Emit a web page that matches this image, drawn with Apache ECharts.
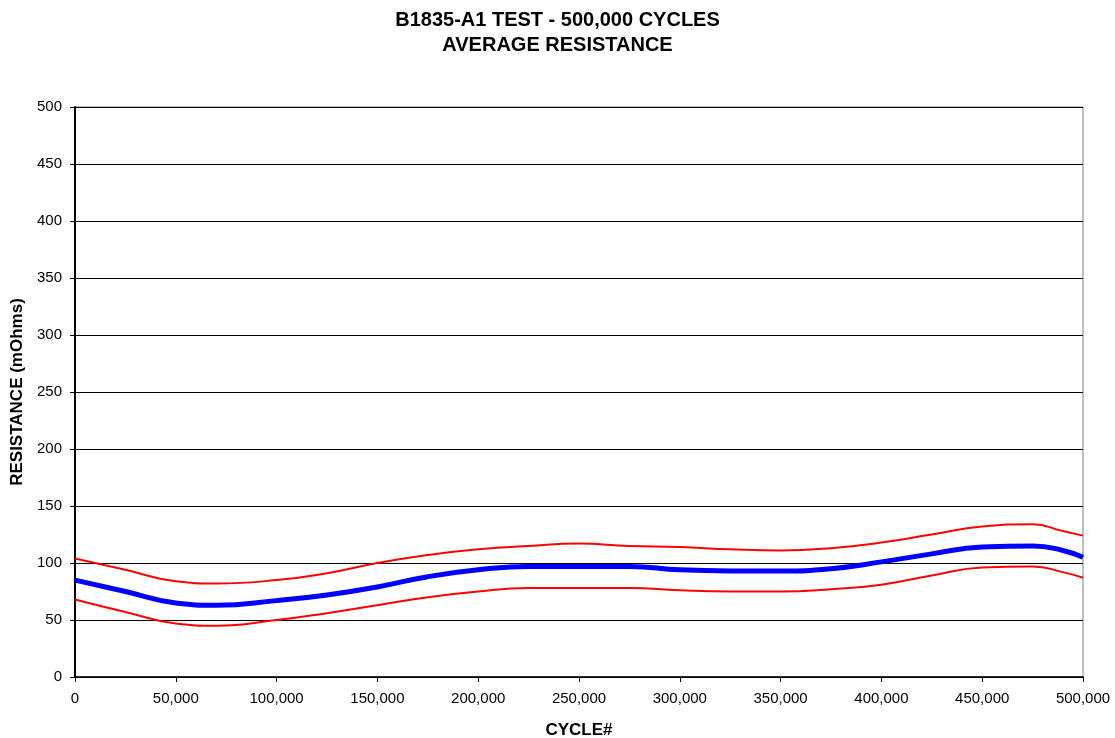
<!DOCTYPE html>
<html>
<head>
<meta charset="utf-8">
<script src="https://cdn.jsdelivr.net/npm/echarts@6/dist/echarts.min.js"></script>
<style>html,body{margin:0;padding:0;background:#fff}#c{width:1115px;height:738px}</style>
</head>
<body>
<div id="c"></div>
<script>
const cycles = [0,25000,50000,70000,100000,125000,150000,175000,200000,225000,250000,275000,300000,325000,350000,375000,400000,425000,450000,475000,490000,500000];
const average = [85,75,65,63,67,72,79,88,94,97,97,97,94,93,93,95,101,108,114,115,111,105];
const upper   = [104,94,84,82,85,91,100,107,112,115,117,115,114,112,111,113,118,125,132,134,128,124];
const lower   = [68,57,47,45,50,56,63,70,75,78,78,78,76,75,75,77,81,89,96,97,92,87];
const xTicks = [0,50000,100000,150000,200000,250000,300000,350000,400000,450000,500000];

const pairs = a => cycles.map((c,i)=>[c,a[i]]);
const font = 'Liberation Sans, Arial, sans-serif';
const chart = echarts.init(document.getElementById('c'));
chart.setOption({
  animation:false,
  backgroundColor:'#fff',
  title:{text:'B1835-A1 TEST - 500,000 CYCLES\nAVERAGE RESISTANCE',left:'center',top:3,
    textStyle:{fontFamily:font,fontSize:20,fontWeight:'bold',color:'#000',lineHeight:25}},
  grid:{left:75,right:32,top:107,bottom:61,show:true,borderColor:'#808080',borderWidth:1,
    containLabel:false,outerBoundsMode:'none'},
  xAxis:{type:'value',min:0,max:500000,interval:50000,
    name:'CYCLE#',nameLocation:'middle',nameGap:45,
    nameTextStyle:{fontFamily:font,fontSize:17,fontWeight:'bold',color:'#000'},
    axisLine:{lineStyle:{color:'#000',width:1.5}},
    axisTick:{show:true,length:5,lineStyle:{color:'#000'}},
    axisLabel:{fontFamily:font,fontSize:15,color:'#000',margin:14,
      formatter:v=>v.toLocaleString('en-US')},
    splitLine:{show:false}},
  yAxis:{type:'value',min:0,max:500,interval:50,
    name:'RESISTANCE (mOhms)',nameLocation:'middle',nameGap:48,nameRotate:90,
    nameTextStyle:{fontFamily:font,fontSize:17,fontWeight:'bold',color:'#000'},
    axisLine:{show:true,lineStyle:{color:'#000',width:2}},
    axisTick:{show:true,length:5,lineStyle:{color:'#000'}},
    axisLabel:{fontFamily:font,fontSize:15,color:'#000',margin:13},
    splitLine:{show:true,lineStyle:{color:'#000',width:1}}},
  series:[
    {name:'upper',type:'line',data:pairs(upper),smooth:true,symbol:'none',lineStyle:{color:'#ff0000',width:2}},
    {name:'lower',type:'line',data:pairs(lower),smooth:true,symbol:'none',lineStyle:{color:'#ff0000',width:2}},
    {name:'average',type:'line',data:pairs(average),smooth:true,symbol:'none',lineStyle:{color:'#0000ff',width:5}}
  ]
});
</script>
</body>
</html>
